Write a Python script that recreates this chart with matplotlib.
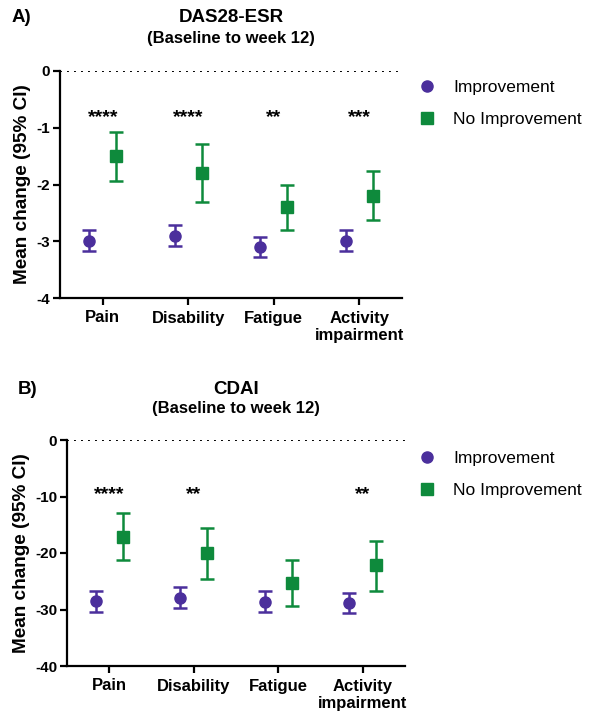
import matplotlib
matplotlib.use("Agg")
import matplotlib.pyplot as plt
import numpy as np

plt.rcParams['font.family'] = ['Liberation Sans', 'DejaVu Sans']

categories = ["Pain", "Disability", "Fatigue", "Activity\nimpairment"]
groups = ["Improvement", "No Improvement"]

# Panel A: DAS28-ESR
a_imp_mean = [-3.0, -2.9, -3.1, -3.0]
a_imp_lo = [-3.18, -3.08, -3.27, -3.18]
a_imp_hi = [-2.81, -2.72, -2.92, -2.81]
a_ni_mean = [-1.5, -1.8, -2.4, -2.2]
a_ni_lo = [-1.93, -2.30, -2.80, -2.63]
a_ni_hi = [-1.07, -1.29, -2.00, -1.76]
a_stars = ["****", "****", "**", "***"]
a_yticks = [0, -1, -2, -3, -4]

# Panel B: CDAI
b_imp_mean = [-28.5, -27.9, -28.7, -28.9]
b_imp_lo = [-30.4, -29.7, -30.5, -30.7]
b_imp_hi = [-26.7, -26.1, -26.8, -27.1]
b_ni_mean = [-17.1, -20.0, -25.3, -22.2]
b_ni_lo = [-21.3, -24.6, -29.3, -26.7]
b_ni_hi = [-12.9, -15.5, -21.2, -17.8]
b_stars = ["****", "**", "", "**"]
b_yticks = [0, -10, -20, -30, -40]

PURPLE = "#4b2f9c"
GREEN = "#0e8a3c"

W, H = 590, 712
fig = plt.figure(figsize=(W / 100, H / 100), dpi=100)


def draw(ax, imp_m, imp_lo, imp_hi, ni_m, ni_lo, ni_hi, stars, yticks, star_y, leg_y):
    x = np.arange(len(categories))
    off = 0.16
    imp_m = np.array(imp_m); ni_m = np.array(ni_m)
    ax.errorbar(x - off, imp_m, yerr=[imp_m - np.array(imp_lo), np.array(imp_hi) - imp_m],
                fmt='o', color=PURPLE, ms=8, elinewidth=1.8, capsize=4.8, capthick=1.8,
                label=groups[0], zorder=3)
    ax.errorbar(x + off, ni_m, yerr=[ni_m - np.array(ni_lo), np.array(ni_hi) - ni_m],
                fmt='s', color=GREEN, ms=8, elinewidth=1.8, capsize=4.8, capthick=1.8,
                label=groups[1], zorder=3)
    ax.axhline(0, color='black', linestyle=(0, (1, 2.6)), linewidth=1.4, zorder=1)
    for xi, s in zip(x, stars):
        if s:
            ax.text(xi, star_y, s, ha='center', va='center', fontsize=14, fontweight='bold')
    ax.set_xlim(-0.5, 3.5)
    ax.set_ylim(min(yticks), max(yticks))
    ax.set_yticks(yticks)
    ax.set_yticklabels([str(t) for t in yticks])
    ax.set_xticks(x)
    ax.set_xticklabels(categories, fontsize=12, fontweight='bold', linespacing=1.2)
    for lab in ax.get_yticklabels():
        lab.set_fontsize(11)
        lab.set_fontweight('bold')
    ax.spines['top'].set_visible(False)
    ax.spines['right'].set_visible(False)
    ax.spines['left'].set_linewidth(1.6)
    ax.spines['bottom'].set_linewidth(1.6)
    ax.tick_params(axis='y', direction='out', length=5, width=1.6, pad=2)
    ax.tick_params(axis='x', direction='out', length=5, width=1.6, pad=4)
    ax.set_ylabel("Mean change (95% CI)", fontsize=13.7, fontweight='bold', labelpad=4)
    handles, labels = ax.get_legend_handles_labels()
    handles = [h[0] for h in handles]
    ax.legend(handles, labels, loc='upper left', bbox_to_anchor=(0.709, leg_y),
              bbox_transform=fig.transFigure, frameon=False, fontsize=12.5,
              handlelength=1.0, handletextpad=1.0, borderpad=0, borderaxespad=0,
              labelspacing=0.95, markerscale=1.0)


axA = fig.add_axes([60 / W, 1 - 298 / H, 342 / W, 227 / H])
draw(axA, a_imp_mean, a_imp_lo, a_imp_hi, a_ni_mean, a_ni_lo, a_ni_hi, a_stars, a_yticks,
     -0.82, 1 - 80 / H)
axB = fig.add_axes([67 / W, 1 - 666 / H, 338 / W, 226 / H])
draw(axB, b_imp_mean, b_imp_lo, b_imp_hi, b_ni_mean, b_ni_lo, b_ni_hi, b_stars, b_yticks,
     -9.6, 1 - 451 / H)

fig.text(12 / W, 1 - 18 / H, "A)", fontsize=13.5, fontweight='bold', va='center', ha='left')
fig.text(231 / W, 1 - 18 / H, "DAS28-ESR", fontsize=13.5, fontweight='bold', va='center', ha='center')
fig.text(231 / W, 1 - 38 / H, "(Baseline to week 12)", fontsize=12, fontweight='bold', va='center', ha='center')
fig.text(18 / W, 1 - 390 / H, "B)", fontsize=13.5, fontweight='bold', va='center', ha='left')
fig.text(236 / W, 1 - 389 / H, "CDAI", fontsize=13.5, fontweight='bold', va='center', ha='center')
fig.text(236 / W, 1 - 409 / H, "(Baseline to week 12)", fontsize=12, fontweight='bold', va='center', ha='center')

fig.savefig("out.png", dpi=100)
